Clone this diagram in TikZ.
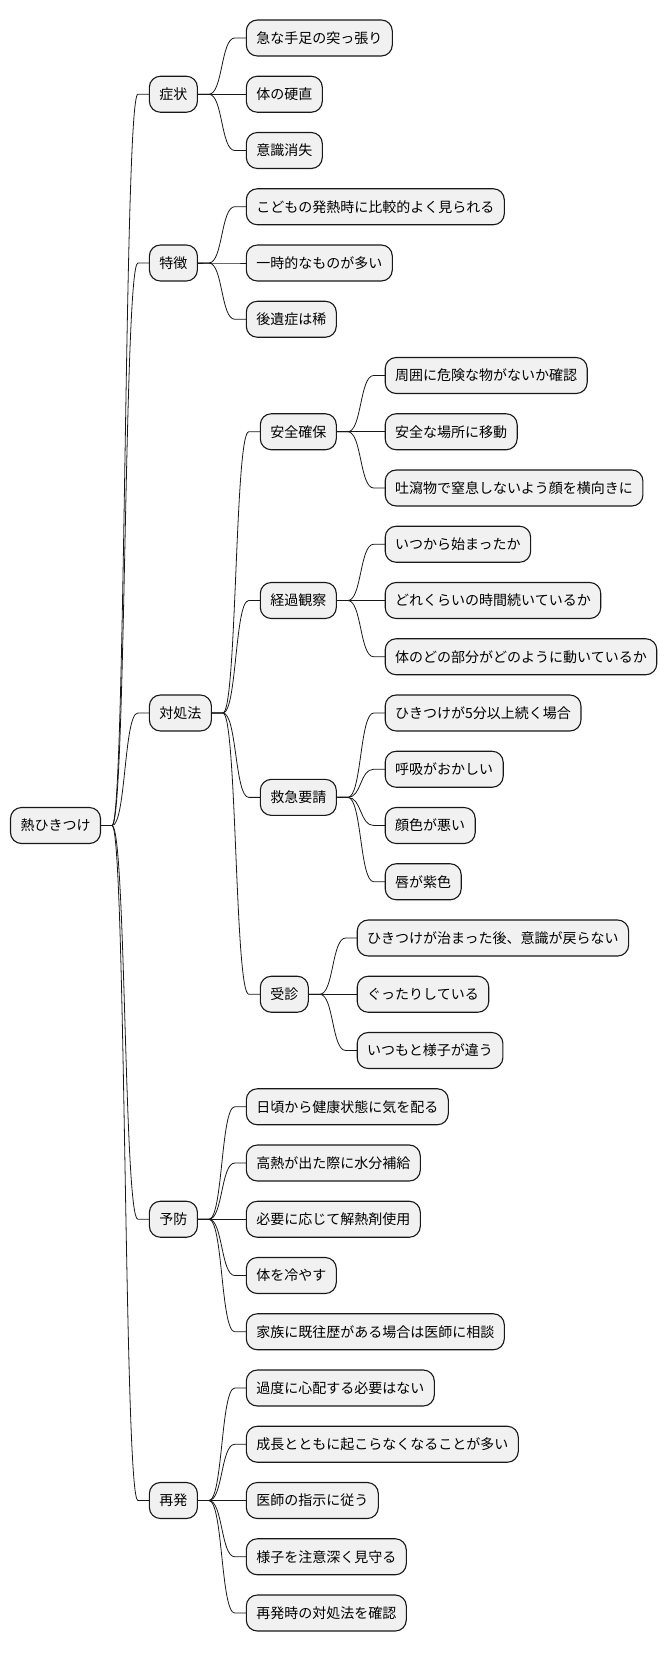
\documentclass[tikz,border=0pt]{standalone}
\usepackage{fontspec}
\setmainfont{Noto Sans CJK JP}
\usetikzlibrary{calc}
\definecolor{boxfill}{HTML}{F1F1F1}
\definecolor{boxline}{HTML}{181818}
\tikzset{
  mmbox/.style={draw=boxline, fill=boxfill, line width=1.1pt, rounded corners=11pt,
    minimum height=36pt, inner xsep=10pt, inner ysep=0pt, outer sep=0pt,
    font=\fontsize{14pt}{16pt}\selectfont, text=black},
  mmline/.style={draw=boxline, line width=0.8pt}
}
\newcommand\mmkid[4]{%
  \path (#1.east) ++(48.9,0) coordinate (t-#2);
  \node[mmbox, anchor=west] (#2) at (t-#2 |- 0,#3) {#4};
  \draw[mmline] (#1.east) -- ++(11.5,0) coordinate (a-#2)
    .. controls ($(a-#2)+(14,0)$) and ($(#2.west)+(-25.5,0)$) .. ($(#2.west)+(-11.5,0)$) -- (#2.west);
}
\begin{document}
\begin{tikzpicture}[x=1pt, y=-1pt]
\useasboundingbox (0,0) rectangle (670,1653);
\node[mmbox, anchor=west] (root) at (10.5,825.5) {熱ひきつけ};
% level 1
\mmkid{root}{s1}{94.25}{症状}
\mmkid{root}{s2}{263}{特徴}
\mmkid{root}{s3}{713}{対処法}
\mmkid{root}{s4}{1219.25}{予防}
\mmkid{root}{s5}{1500.5}{再発}
% 症状
\mmkid{s1}{l1}{38}{急な手足の突っ張り}
\mmkid{s1}{l2}{94.25}{体の硬直}
\mmkid{s1}{l3}{150.5}{意識消失}
% 特徴
\mmkid{s2}{l4}{206.75}{こどもの発熱時に比較的よく見られる}
\mmkid{s2}{l5}{263}{一時的なものが多い}
\mmkid{s2}{l6}{319.25}{後遺症は稀}
% 対処法
\mmkid{s3}{m1}{431.75}{安全確保}
\mmkid{s3}{m2}{600.5}{経過観察}
\mmkid{s3}{m3}{797.375}{救急要請}
\mmkid{s3}{m4}{994.25}{受診}
\mmkid{m1}{l7}{375.5}{周囲に危険な物がないか確認}
\mmkid{m1}{l8}{431.75}{安全な場所に移動}
\mmkid{m1}{l9}{488}{吐瀉物で窒息しないよう顔を横向きに}
\mmkid{m2}{l10}{544.25}{いつから始まったか}
\mmkid{m2}{l11}{600.5}{どれくらいの時間続いているか}
\mmkid{m2}{l12}{656.75}{体のどの部分がどのように動いているか}
\mmkid{m3}{l13}{713}{ひきつけが5分以上続く場合}
\mmkid{m3}{l14}{769.25}{呼吸がおかしい}
\mmkid{m3}{l15}{825.5}{顔色が悪い}
\mmkid{m3}{l16}{881.75}{唇が紫色}
\mmkid{m4}{l17}{938}{ひきつけが治まった後、意識が戻らない}
\mmkid{m4}{l18}{994.25}{ぐったりしている}
\mmkid{m4}{l19}{1050.5}{いつもと様子が違う}
% 予防
\mmkid{s4}{l20}{1106.75}{日頃から健康状態に気を配る}
\mmkid{s4}{l21}{1163}{高熱が出た際に水分補給}
\mmkid{s4}{l22}{1219.25}{必要に応じて解熱剤使用}
\mmkid{s4}{l23}{1275.5}{体を冷やす}
\mmkid{s4}{l24}{1331.75}{家族に既往歴がある場合は医師に相談}
% 再発
\mmkid{s5}{l25}{1388}{過度に心配する必要はない}
\mmkid{s5}{l26}{1444.25}{成長とともに起こらなくなることが多い}
\mmkid{s5}{l27}{1500.5}{医師の指示に従う}
\mmkid{s5}{l28}{1556.75}{様子を注意深く見守る}
\mmkid{s5}{l29}{1613}{再発時の対処法を確認}
\end{tikzpicture}
\end{document}
